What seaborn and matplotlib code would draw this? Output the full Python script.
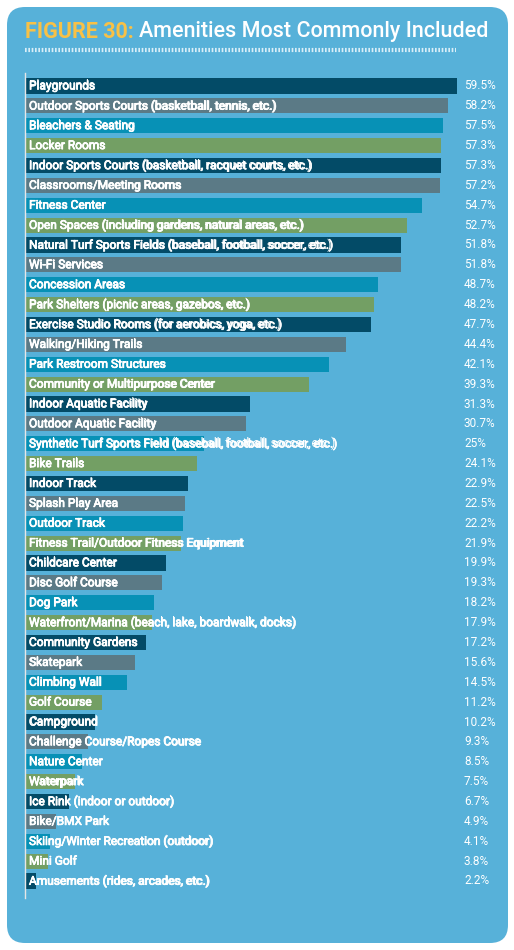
import matplotlib
matplotlib.use("Agg")
import matplotlib.pyplot as plt
import matplotlib.patheffects as pe
from matplotlib.patches import FancyBboxPatch
from matplotlib.lines import Line2D
import seaborn as sns
import pandas as pd

# amenities and share of respondents (%)
amenities = [
    "Playgrounds",
    "Outdoor Sports Courts (basketball, tennis, etc.)",
    "Bleachers & Seating",
    "Locker Rooms",
    "Indoor Sports Courts (basketball, racquet courts, etc.)",
    "Classrooms/Meeting Rooms",
    "Fitness Center",
    "Open Spaces (including gardens, natural areas, etc.)",
    "Natural Turf Sports Fields (baseball, football, soccer, etc.)",
    "Wi-Fi Services",
    "Concession Areas",
    "Park Shelters (picnic areas, gazebos, etc.)",
    "Exercise Studio Rooms (for aerobics, yoga, etc.)",
    "Walking/Hiking Trails",
    "Park Restroom Structures",
    "Community or Multipurpose Center",
    "Indoor Aquatic Facility",
    "Outdoor Aquatic Facility",
    "Synthetic Turf Sports Field (baseball, football, soccer, etc.)",
    "Bike Trails",
    "Indoor Track",
    "Splash Play Area",
    "Outdoor Track",
    "Fitness Trail/Outdoor Fitness Equipment",
    "Childcare Center",
    "Disc Golf Course",
    "Dog Park",
    "Waterfront/Marina (beach, lake, boardwalk, docks)",
    "Community Gardens",
    "Skatepark",
    "Climbing Wall",
    "Golf Course",
    "Campground",
    "Challenge Course/Ropes Course",
    "Nature Center",
    "Waterpark",
    "Ice Rink (indoor or outdoor)",
    "Bike/BMX Park",
    "Skiing/Winter Recreation (outdoor)",
    "Mini Golf",
    "Amusements (rides, arcades, etc.)",
]
percent = [59.5, 58.2, 57.5, 57.3, 57.3, 57.2, 54.7, 52.7, 51.8, 51.8,
           48.7, 48.2, 47.7, 44.4, 42.1, 39.3, 31.3, 30.7, 25, 24.1,
           22.9, 22.5, 22.2, 21.9, 19.9, 19.3, 18.2, 17.9, 17.2, 15.6,
           14.5, 11.2, 10.2, 9.3, 8.5, 7.5, 6.7, 4.9, 4.1, 3.8, 2.2]

df = pd.DataFrame({"amenity": amenities, "percent": percent})

bg = "#57b1d9"
cycle = ["#034b67", "#5b7a86", "#0791b6", "#739f64"]
palette = [cycle[i % 4] for i in range(len(amenities))]

W, H = 514, 950
fig = plt.figure(figsize=(W / 100, H / 100), dpi=100)
fig.patch.set_facecolor("white")

# rounded blue panel
panel = FancyBboxPatch((7 / W, 7 / H), 501 / W, 936 / H,
                       boxstyle="round,pad=0,rounding_size=0.035",
                       transform=fig.transFigure, facecolor=bg,
                       edgecolor="none", mutation_aspect=W / H, zorder=-5)
fig.add_artist(panel)

# title
t1 = fig.text(25 / W, 1 - 32 / H, "FIGURE 30:", color="#f8c146", fontsize=15.5,
              fontweight="bold", family="Roboto", va="center", ha="left")
fig.canvas.draw()
bb = t1.get_window_extent()
fig.text(bb.x1 / W + 5 / W, 1 - 32 / H, "Amenities Most Commonly Included",
         color="white", fontsize=15.5, fontweight="medium", family="Roboto",
         va="center", ha="left")
fig.add_artist(Line2D([25 / W, 456 / W], [1 - 50 / H, 1 - 50 / H],
                      transform=fig.transFigure, color="#d9eef8", lw=3,
                      linestyle=(0, (0.4, 0.4))))

# bar chart
top, bottom = 73, 898
px_per_pct = 7.35
ax = fig.add_axes([25 / W, 1 - bottom / H, 482 / W, (bottom - top) / H])
ax.set_facecolor("none")
sns.barplot(data=df, x="percent", y="amenity", hue="amenity", palette=palette,
            legend=False, width=0.76, orient="h", ax=ax, saturation=1)

n = len(amenities)
x0 = 5 / px_per_pct
ax.set_xlim(x0, x0 + 482 / px_per_pct)
ax.set_ylim(n - 1 + 17 / 19.875, -13 / 19.875)

bars = sorted(ax.patches, key=lambda p: p.get_y())
tr = ax.get_yaxis_transform()
for i, (name, v) in enumerate(zip(amenities, percent)):
    ax.text(4 / 482, i, name, color="white", fontsize=8.6,
            family="Roboto", va="center", ha="left", transform=tr)
    # heavier copy of the label, visible only over its bar
    bold = ax.text(4 / 482, i, name, color="white", fontsize=8.6,
                   family="Roboto", va="center", ha="left", transform=tr,
                   path_effects=[pe.withStroke(linewidth=0.5, foreground="white")])
    bold.set_clip_path(bars[i])
    ax.text((464 - 25) / 482, i, f"{v:g}%", color="white", fontsize=8.5,
            family="Roboto", va="center", ha="left", transform=tr)

for s in ["top", "right", "bottom"]:
    ax.spines[s].set_visible(False)
ax.spines["left"].set_color("#e6e6e6")
ax.spines["left"].set_linewidth(1)
ax.set_xticks([])
ax.set_yticks([])
ax.set_xlabel("")
ax.set_ylabel("")

fig.savefig("out.png", dpi=100, facecolor="white")
